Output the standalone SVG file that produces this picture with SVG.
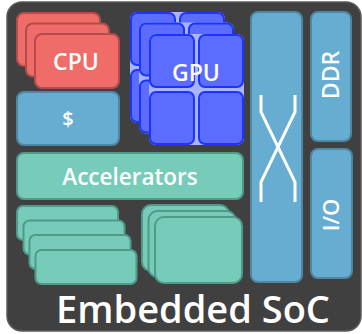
<svg xmlns="http://www.w3.org/2000/svg" width="362" height="334" viewBox="0 0 362 334">
  <defs>
    <style>
      .board { fill: #404040; stroke: #5a5a5a; stroke-width: 1.5; }
      .cpu { fill: #f06c68; stroke: #b24d4b; stroke-width: 2; }
      .mem { fill: #67acd1; stroke: #4c87a3; stroke-width: 2; }
      .acc { fill: #77cbb9; stroke: #4f9a89; stroke-width: 2; }
      .gpu-back { fill: #aab4ff; }
      .gpu { fill: #5b6cff; stroke: #1b35ff; stroke-width: 2; }
      .label { font-family: "Open Sans", "Liberation Sans", sans-serif; font-weight: 600; fill: #ffffff; text-anchor: middle; }
      .xbar { fill: none; stroke: #ffffff; stroke-width: 3; stroke-linejoin: miter; }
    </style>
    <!-- one GPU layer: light backing with a 2x2 grid of cores -->
    <g id="gpuLayer">
      <rect class="gpu-back" x="0" y="0" width="95" height="111" rx="7"/>
      <rect class="gpu" x="1" y="1" width="44" height="52" rx="6"/>
      <rect class="gpu" x="50" y="1" width="44" height="52" rx="6"/>
      <rect class="gpu" x="1" y="58" width="44" height="52" rx="6"/>
      <rect class="gpu" x="50" y="58" width="44" height="52" rx="6"/>
    </g>
  </defs>

  <!-- SoC package -->
  <rect class="board" x="7" y="2" width="354" height="329" rx="15"/>

  <g id="cpu">
    <rect class="cpu" x="17" y="13" width="83" height="53" rx="7"/>
    <rect class="cpu" x="26" y="23.5" width="83" height="53" rx="7"/>
    <rect class="cpu" x="35" y="34" width="84" height="54" rx="7"/>
    <text class="label" x="76" y="70" font-size="23">CPU</text>
  </g>

  <g id="cache">
    <rect class="mem" x="17" y="92" width="102" height="53" rx="7"/>
    <text class="label" x="68" y="126" font-size="20">$</text>
  </g>

  <g id="gpu">
    <use href="#gpuLayer" x="130" y="12"/>
    <use href="#gpuLayer" x="139" y="22.5"/>
    <use href="#gpuLayer" x="149" y="34"/>
    <text class="label" x="196" y="81" font-size="23">GPU</text>
  </g>

  <g id="accelerators">
    <rect class="acc" x="17" y="153" width="226" height="46" rx="7"/>
    <text class="label" x="130" y="185" font-size="22.5">Accelerators</text>
  </g>

  <g id="accel-small">
    <rect class="acc" x="17" y="206" width="101" height="34" rx="6"/>
    <rect class="acc" x="23.5" y="220.5" width="101" height="34" rx="6"/>
    <rect class="acc" x="29.5" y="235" width="101" height="34" rx="6"/>
    <rect class="acc" x="35.5" y="250" width="101" height="34" rx="6"/>
  </g>

  <g id="accel-large">
    <rect class="acc" x="142" y="205" width="87" height="66" rx="9"/>
    <rect class="acc" x="148.5" y="211" width="87" height="66" rx="9"/>
    <rect class="acc" x="155" y="217" width="87" height="66" rx="9"/>
  </g>

  <g id="crossbar">
    <rect class="mem" x="251" y="12" width="51" height="270" rx="7"/>
  </g>

  <g id="ddr">
    <rect class="mem" x="311" y="12" width="40" height="129" rx="7"/>
    <text class="label" transform="translate(339,75) rotate(-90)" font-size="23">DDR</text>
  </g>

  <g id="io">
    <rect class="mem" x="311" y="149" width="41" height="129" rx="7"/>
    <text class="label" transform="translate(339,215) rotate(-90)" font-size="22">I/O</text>
  </g>

  <!-- crossbar switching lines -->
  <g id="connectors">
    <path class="xbar" d="M261,95 V112 L295,182 V202"/>
    <path class="xbar" d="M295,95 V112 L261,182 V202"/>
  </g>

  <text id="title" class="label" x="193" y="323" font-size="38">Embedded SoC</text>
</svg>
